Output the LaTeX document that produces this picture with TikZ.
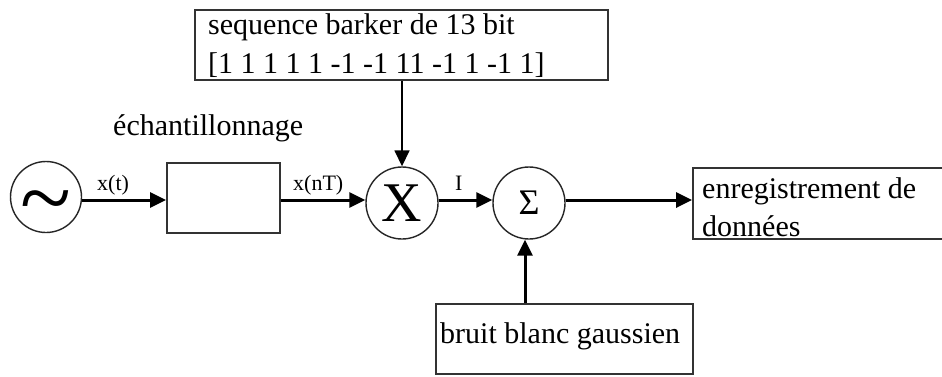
\documentclass[tikz,border=0pt]{standalone}
\usepackage{fontspec}
\setmainfont{Liberation Serif}
\usetikzlibrary{arrows.meta}
\begin{document}
\begin{tikzpicture}[x=1pt,y=-1pt,
  blockbox/.style={draw=black!80,line width=1.8pt,minimum width=#1,inner sep=0pt},
  ring/.style={circle,draw=black!85,line width=1.4pt,minimum size=72pt,inner sep=0pt},
  txt/.style={anchor=base west,inner sep=0pt,font=\fontsize{30}{34}\selectfont},
  sig/.style={anchor=base west,inner sep=0pt,font=\fontsize{22}{26}\selectfont},
  flow/.style={line width=3pt,-{Triangle[length=16pt,width=15pt]}},
  thinflow/.style={line width=1.6pt,-{Triangle[length=16pt,width=15pt]}}]
\useasboundingbox (0,0) rectangle (942,376);
\fill[white] (0,0) rectangle (942,376);

% generator, sampler, multiplier and summer
\node[ring,minimum size=71pt] (src) at (46,197) {};
\node[inner sep=0pt,font=\fontsize{94}{94}\selectfont] (tilde) at ([yshift=-13pt]src.center) {\char`\~};
\node[blockbox=113pt,minimum height=70pt] (samp) at (223.5,198) {};
\node[ring] (mult) at (402,203) {};
\node[inner sep=0pt,font=\fontsize{56}{56}\selectfont] (xsym) at (mult.center) {X};
\node[ring] (sum) at (529,203) {};
\node[inner sep=0pt,font=\fontsize{36}{36}\selectfont] (sigma) at (sum.center) {Σ};

% text boxes
\node[blockbox=413pt,minimum height=70pt] (barker) at (401.5,45) {};
\node[txt] (b1) at (208,34) {sequence barker de 13 bit};
\node[txt] (b2) at (208,73) {[1 1 1 1 1 -1 -1 11 -1 1 -1 1]};

\node[blockbox=267pt,minimum height=71pt] (out) at (826.5,203.5) {};
\node[txt] (o1) at (702,198) {enregistrement de};
\node[txt] (o2) at (702,236) {données};

\node[blockbox=257pt,minimum height=70pt] (noise) at (564.5,339) {};
\node[txt] (n1) at (440,343) {bruit blanc gaussien};

\node[txt] (lab) at (113,135) {échantillonnage};

% connectors
\draw[flow] (src.east |- 0,200) -- (samp.west |- 0,200);
\draw[flow] (samp.east |- 0,200) -- (mult.west |- 0,200);
\draw[flow] (mult.east |- 0,200) -- (sum.west |- 0,200);
\draw[flow] (sum.east |- 0,200) -- (out.west |- 0,200);
\draw[thinflow] (barker.south -| mult.north) -- (mult.north);
\draw[flow] (noise.north -| 525,0) -- (sum.south -| 525,0);

% signal labels
\node[sig] (xt) at (97,190) {x(t)};
\node[sig] (xnt) at (293,190) {x(nT)};
\node[sig] (isig) at (455,190) {I};
\end{tikzpicture}
\end{document}
